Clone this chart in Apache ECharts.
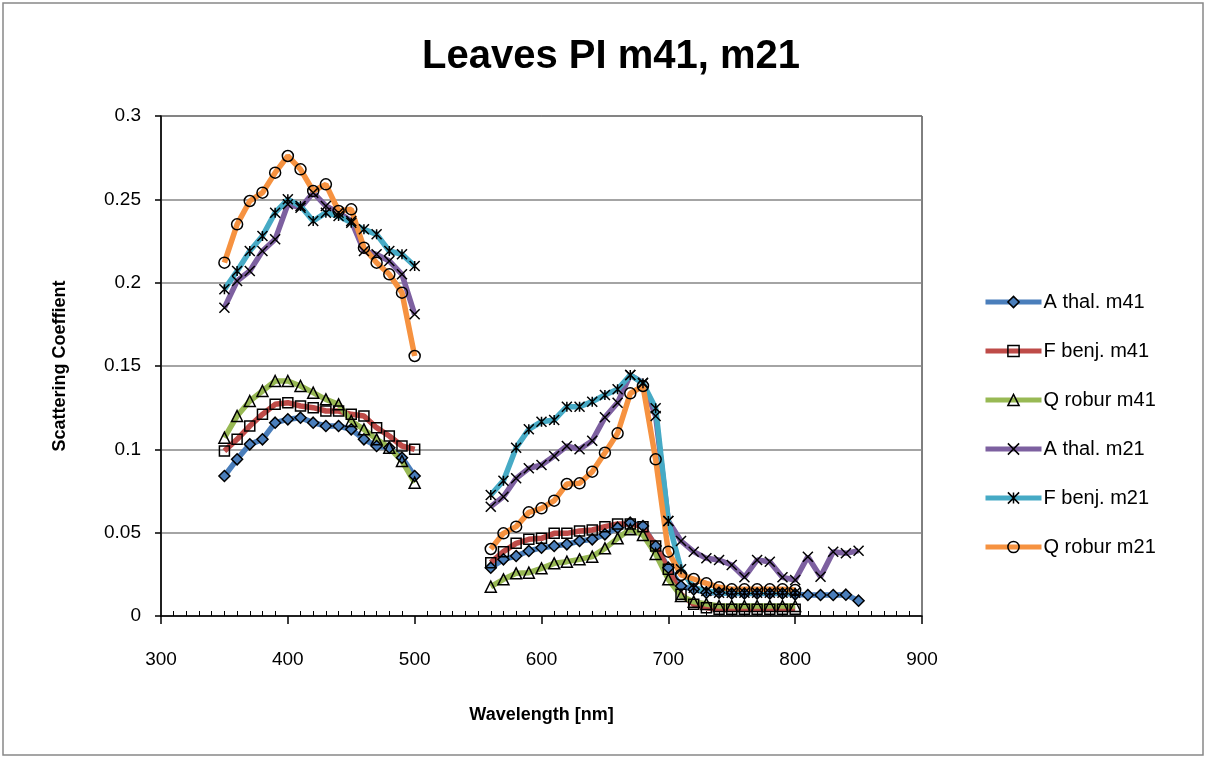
<!DOCTYPE html>
<html>
<head>
<meta charset="utf-8">
<script src="https://cdn.jsdelivr.net/npm/echarts@6/dist/echarts.min.js"></script>
<style>
html,body{margin:0;padding:0;background:#fff;}
#c{width:1207px;height:758px;}
</style>
</head>
<body>
<div id="c"></div>
<script>
// ---- data ----
const wlA = [350,360,370,380,390,400,410,420,430,440,450,460,470,480,490,500];
const wlB = [560,570,580,590,600,610,620,630,640,650,660,670,680,690,700,710,720,730,740,750,760,770,780,790,800];
const wlC = [560,570,580,590,600,610,620,630,640,650,660,670,680,690,700,710,720,730,740,750,760,770,780,790,800,810,820,830,840,850];

const athal41A = [0.084,0.094,0.103,0.106,0.116,0.118,0.119,0.116,0.114,0.114,0.112,0.106,0.102,0.101,0.095,0.084];
const fbenj41A = [0.099,0.106,0.114,0.121,0.127,0.128,0.126,0.125,0.123,0.123,0.121,0.120,0.113,0.108,0.102,0.100];
const qrob41A  = [0.107,0.120,0.129,0.135,0.141,0.141,0.138,0.134,0.130,0.127,0.117,0.112,0.106,0.101,0.093,0.080];
const athal21A = [0.185,0.201,0.207,0.219,0.226,0.247,0.245,0.254,0.246,0.242,0.237,0.219,0.217,0.213,0.205,0.181];
const fbenj21A = [0.196,0.207,0.219,0.228,0.242,0.250,0.246,0.237,0.242,0.240,0.236,0.232,0.229,0.219,0.217,0.210];
const qrob21A  = [0.212,0.235,0.249,0.254,0.266,0.276,0.268,0.255,0.259,0.243,0.244,0.221,0.212,0.205,0.194,0.156];

const athal41C = [0.029,0.034,0.036,0.039,0.041,0.042,0.043,0.045,0.046,0.049,0.053,0.056,0.054,0.042,0.029,0.018,0.016,0.014,0.014,0.0135,0.0135,0.0135,0.0135,0.0135,0.013,0.0126,0.0126,0.0126,0.0128,0.0092];
const fbenj41B = [0.032,0.0386,0.0436,0.046,0.0466,0.0496,0.0496,0.051,0.0516,0.0536,0.0552,0.0552,0.0536,0.042,0.028,0.013,0.007,0.005,0.004,0.004,0.004,0.004,0.004,0.004,0.004];
const qrob41B  = [0.0176,0.022,0.0256,0.026,0.0286,0.0316,0.0326,0.034,0.0356,0.0406,0.0466,0.052,0.0486,0.0372,0.022,0.012,0.0086,0.0072,0.006,0.006,0.006,0.006,0.006,0.006,0.006];
const athal21C = [0.0656,0.0716,0.0826,0.0886,0.0906,0.096,0.102,0.100,0.1052,0.1192,0.128,0.1446,0.140,0.120,0.057,0.045,0.0386,0.0346,0.0336,0.0306,0.0232,0.0336,0.0326,0.0232,0.0216,0.0356,0.0236,0.0386,0.0376,0.0392];
const fbenj21B = [0.0726,0.0812,0.101,0.112,0.1166,0.1176,0.1256,0.1256,0.1286,0.1326,0.136,0.1446,0.1396,0.1246,0.057,0.028,0.017,0.015,0.014,0.014,0.014,0.014,0.014,0.014,0.014];
const qrob21B  = [0.0402,0.0496,0.0536,0.0622,0.0646,0.0692,0.0792,0.0796,0.0866,0.098,0.1096,0.1336,0.138,0.094,0.0386,0.0246,0.0222,0.0196,0.0172,0.016,0.016,0.016,0.016,0.016,0.0156];

const names = ['A thal. m41','F benj. m41','Q robur m41','A thal. m21','F benj. m21','Q robur m21'];
const xTicks = [300,400,500,600,700,800,900];
const yTicks = [0,0.05,0.1,0.15,0.2,0.25,0.3];

// ---- build ----
function pairs(w, v){ return w.map((x,i)=>[x,v[i]]); }
function join(w1,v1,w2,v2){ return pairs(w1,v1).concat([[530,null]]).concat(pairs(w2,v2)); }

const colors = ['#4A7EBB','#BE4B48','#98B954','#7D60A0','#46AAC5','#F69240'];
const X = 'path://M0,0L10,10M10,0L0,10';
const AST = 'path://M0,0L10,10M10,0L0,10M5,0L5,10';
const symbols = ['diamond','rect','triangle',X,AST,'circle'];
const sizes = [11,10,11,10,10,11];
const fills = [colors[0],'none','none','none','none','none'];
const datas = [
  join(wlA,athal41A,wlC,athal41C),
  join(wlA,fbenj41A,wlB,fbenj41B),
  join(wlA,qrob41A,wlB,qrob41B),
  join(wlA,athal21A,wlC,athal21C),
  join(wlA,fbenj21A,wlB,fbenj21B),
  join(wlA,qrob21A,wlB,qrob21B)
];

const series = names.map((n,i)=>({
  name:n, type:'line', data:datas[i], connectNulls:false,
  symbol:symbols[i], symbolSize:sizes[i], showAllSymbol:true,
  lineStyle:{color:colors[i], width:5.5},
  itemStyle:{color:fills[i], borderColor:'#000', borderWidth:1.5},
  emphasis:{disabled:true}, animation:false
}));

const chart = echarts.init(document.getElementById('c'), null, {renderer:'canvas'});
chart.setOption({
  animation:false,
  backgroundColor:'#fff',
  title:{text:'Leaves PI m41, m21', top:32, left:606, textAlign:'center',
    textStyle:{fontFamily:'Liberation Sans', fontWeight:'bold', fontSize:40, color:'#000'}},
  graphic:[{type:'rect', shape:{x:3,y:3,width:1200,height:752}, style:{fill:'none', stroke:'#888', lineWidth:1.5}, silent:true}],
  grid:{left:161, right:285, top:116, bottom:142, show:true, borderColor:'#000', borderWidth:1},
  legend:{orient:'vertical', left:978, top:287, itemWidth:56, itemHeight:14, itemGap:29,
    lineStyle:{width:5}, itemStyle:{borderWidth:1.5},
    textStyle:{fontFamily:'Liberation Sans', fontSize:20, color:'#000', lineHeight:20, padding:[0,0,0,-3]}, data:names},
  xAxis:{type:'value', min:300, max:900, interval:100,
    name:'Wavelength [nm]', nameLocation:'middle', nameGap:90,
    nameTextStyle:{fontFamily:'Liberation Sans', fontWeight:'bold', fontSize:18, color:'#000'},
    axisLine:{lineStyle:{color:'#000', width:1.5}},
    axisTick:{show:true, length:8, lineStyle:{color:'#000', width:1.5}},
    minorTick:{show:true, splitNumber:10, length:-5, lineStyle:{color:'#000', width:1}},
    splitLine:{show:false},
    axisLabel:{margin:34, fontFamily:'Liberation Sans', fontSize:19, color:'#000',
      formatter:v=>xTicks.includes(v)?String(v):''}},
  yAxis:{type:'value', min:0, max:0.3, interval:0.05,
    name:'Scattering Coeffient', nameLocation:'middle', nameGap:92,
    nameTextStyle:{fontFamily:'Liberation Sans', fontWeight:'bold', fontSize:18, color:'#000'},
    axisLine:{show:true, lineStyle:{color:'#000', width:1.5}},
    axisTick:{show:true, length:6, lineStyle:{color:'#000', width:1.5}},
    splitLine:{show:true, lineStyle:{color:'#868686', width:1.5}},
    axisLabel:{margin:20, fontFamily:'Liberation Sans', fontSize:19, color:'#000',
      formatter:v=>{const t=yTicks.find(k=>Math.abs(k-v)<1e-9); return t===undefined?'':String(t);}}},
  series:series
});
</script>
</body>
</html>
